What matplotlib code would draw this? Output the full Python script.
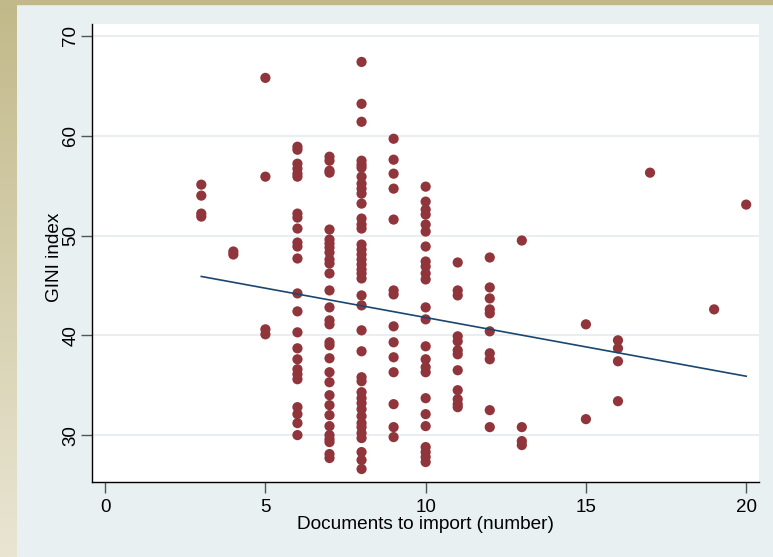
import numpy as np
import matplotlib
matplotlib.use('Agg')
import matplotlib.pyplot as plt
from matplotlib.colors import LinearSegmentedColormap
from matplotlib.patches import Rectangle

plt.rcParams['font.family'] = ['Liberation Sans', 'DejaVu Sans']

# GINI index values grouped by number of documents to import
gini = {
    3: [55.1, 54.0, 52.2, 51.9],
    4: [48.4, 48.1],
    5: [65.8, 55.9, 40.6, 40.1],
    6: [58.9, 58.6, 57.2, 56.7, 56.2, 55.9, 52.2, 51.8, 50.7, 49.3, 48.9, 47.7,
        44.2, 42.4, 40.3, 38.7, 37.6, 36.6, 36.1, 35.6, 32.8, 32.1, 31.2, 30.0],
    7: [57.9, 57.5, 56.5, 56.3, 50.6, 49.6, 49.2, 48.8, 48.3, 47.6, 47.2, 46.2,
        44.5, 42.8, 41.5, 41.1, 39.3, 39.0, 37.7, 36.3, 35.3, 34.0, 33.0, 32.0,
        30.9, 30.0, 29.6, 29.3, 28.1, 27.7],
    8: [67.4, 63.2, 61.4, 57.5, 57.1, 56.8, 55.9, 55.2, 54.7, 54.2, 53.2, 51.7,
        51.1, 50.7, 49.1, 48.6, 48.1, 47.6, 47.1, 46.6, 46.2, 45.7, 44.0, 43.0,
        40.5, 38.4, 35.8, 35.4, 34.3, 33.7, 33.2, 32.6, 31.9, 31.2, 30.8, 30.2,
        29.7, 28.3, 27.5, 26.6],
    9: [59.7, 57.6, 56.2, 54.7, 51.6, 44.5, 44.1, 40.9, 39.3, 37.8, 36.3, 33.1,
        30.8, 29.8],
    10: [54.9, 53.4, 52.6, 52.1, 51.1, 50.4, 48.9, 47.4, 46.9, 46.2, 45.6, 42.8,
         41.6, 38.9, 37.6, 36.8, 36.3, 33.7, 32.1, 30.9, 28.8, 28.3, 27.8, 27.3],
    11: [47.3, 44.5, 44.0, 39.9, 39.4, 38.5, 38.1, 36.5, 34.5, 33.6, 33.1, 32.8],
    12: [47.8, 44.8, 43.7, 42.6, 42.2, 40.4, 38.2, 37.6, 32.5, 30.8],
    13: [49.5, 30.8, 29.4, 29.0],
    15: [41.1, 31.6],
    16: [39.5, 38.7, 37.4, 33.4],
    17: [56.3],
    19: [42.6],
    20: [53.1],
}

docs = np.concatenate([[k] * len(v) for k, v in gini.items()]).astype(float)
index = np.concatenate([v for v in gini.values()])

# fitted values at the ends of the linear fit line
fit_docs = [3, 20]
fit_index = [45.9, 35.9]

xticks = [0, 5, 10, 15, 20]
yticks = [30, 40, 50, 60, 70]

maroon = '#90353b'
navy = '#1a476f'

fig = plt.figure(figsize=(7.73, 5.57), dpi=100, facecolor='#e8f0f2')

# khaki frame strips (left one fades downward)
strip = fig.add_axes([0, 0, 17 / 773, 1], zorder=-5)
fade = LinearSegmentedColormap.from_list('fade', ['#c2b98a', '#e9e5d2'])
strip.imshow(np.linspace(0, 1, 200).reshape(-1, 1), cmap=fade, aspect='auto')
strip.axis('off')
fig.patches.append(Rectangle((0, 1 - 4 / 557), 1, 4 / 557, transform=fig.transFigure,
                             color='#c2b98a', zorder=-3))

ax = fig.add_axes([92 / 773, 75 / 557, 667 / 773, 458 / 557])
ax.set_facecolor('white')

ax.scatter(docs, index, s=54, color=maroon, edgecolors='none', zorder=3)
ax.plot(fit_docs, fit_index, color=navy, lw=1.2, zorder=4)

ax.set_xlim(-0.41, 20.4)
ax.set_ylim(25.3, 71.2)
ax.set_xticks(xticks)
ax.set_yticks(yticks)
ax.grid(axis='y', color='#e8eef1', lw=1.5, zorder=0)
ax.set_axisbelow(True)

for s in ['top', 'right']:
    ax.spines[s].set_visible(False)
for s in ['left', 'bottom']:
    ax.spines[s].set_color('black')
    ax.spines[s].set_linewidth(1.0)

ax.tick_params(axis='both', length=8, width=1, color='#555555', labelsize=13.5)
ax.tick_params(axis='x', pad=4)
ax.tick_params(axis='y', pad=1)
plt.setp(ax.get_yticklabels(), rotation=90, va='center')

ax.set_xlabel('Documents to import (number)', fontsize=13.7, labelpad=0)
ax.set_ylabel('GINI index', fontsize=13.7)
ax.yaxis.set_label_coords(-0.044, 0.49)

fig.savefig('out.png', dpi=100, facecolor=fig.get_facecolor())
